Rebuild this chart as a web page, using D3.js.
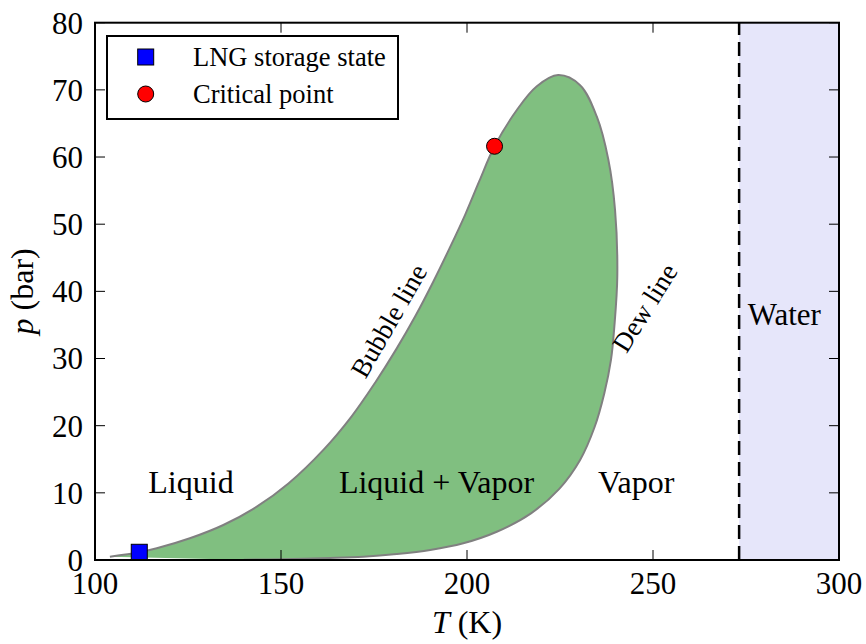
<!DOCTYPE html>
<html>
<head>
<meta charset="utf-8">
<script src="https://cdn.jsdelivr.net/npm/d3@7"></script>
<style>
  body { margin: 0; background: #fff; }
  svg text { font-family: "Liberation Serif", "Times New Roman", serif; fill: #000; }
</style>
</head>
<body>
<svg id="chart"></svg>
<script>
// phase envelope of the LNG mixture
const bubbleT = [104.0, 111.9, 116.6, 125.5, 134.5, 143.5, 152.0, 161.4, 169.0, 175.3, 181.0, 186.2, 190.9, 195.3, 199.5, 203.3, 207.4, 213.4, 218.7, 224.5]
const bubbleP = [0.49, 1.15, 1.74, 3.23, 5.21, 7.94, 11.4, 16.4, 21.4, 26.4, 31.4, 36.4, 41.4, 46.4, 51.4, 56.4, 61.6, 67.0, 70.5, 72.2]
const dewT = [224.5, 230.4, 234.9, 238.0, 239.8, 240.4, 239.6, 238.7, 236.9, 234.3, 230.4, 224.8, 217.2, 208.0, 199.0, 190.1, 181.1, 172.1, 163.2, 150.0, 140.0]
const dewP = [72.2, 70.7, 66.0, 59.6, 52.1, 42.2, 34.7, 29.8, 24.8, 19.8, 14.9, 10.6, 6.95, 4.21, 2.49, 1.49, 0.89, 0.49, 0.30, 0.12, 0.05]

const storageState = { T: 111.9, p: 1.15 }
const criticalPoint = { T: 207.4, p: 61.6 }
const waterT = 273.15

const xTicks = [100, 150, 200, 250, 300]
const yTicks = [0, 10, 20, 30, 40, 50, 60, 70, 80]

const width = 866
const height = 644
const margin = { top: 22.7, right: 27, bottom: 84, left: 95 }
const TICK_FONT = 31
const LABEL_FONT = 32

const svg = d3.select('#chart')
  .attr('width', width)
  .attr('height', height)

const x = d3.scaleLinear()
  .domain([100, 300])
  .range([margin.left, width - margin.right])

const y = d3.scaleLinear()
  .domain([0, 80])
  .range([height - margin.bottom, margin.top])

const envelope = bubbleT.map((t, i) => [t, bubbleP[i]])
  .concat(dewT.slice(1).map((t, i) => [t, dewP[i + 1]]))

const line = d3.line()
  .x(d => x(d[0]))
  .y(d => y(d[1]))
  .curve(d3.curveCatmullRom.alpha(0.5))

const plot = svg.append('g')

// clip everything to the axes box
svg.append('clipPath').attr('id', 'clip')
  .append('rect')
    .attr('x', x(100)).attr('y', y(80))
    .attr('width', x(300) - x(100)).attr('height', y(0) - y(80))

const inner = plot.append('g').attr('clip-path', 'url(#clip)')

// water region
inner.append('rect')
  .attr('x', x(waterT))
  .attr('y', y(80))
  .attr('width', x(300) - x(waterT))
  .attr('height', y(0) - y(80))
  .attr('fill', '#e6e6fa')

inner.append('line')
  .attr('x1', x(waterT)).attr('x2', x(waterT))
  .attr('y1', y(0)).attr('y2', y(80))
  .attr('stroke', '#000')
  .attr('stroke-width', 2.5)
  .attr('stroke-dasharray', '14,7')

// two-phase region
inner.append('path')
  .attr('d', line(envelope) + 'Z')
  .attr('fill', '#80bf80')
  .attr('stroke', 'none')

inner.append('path')
  .attr('d', line(envelope))
  .attr('fill', 'none')
  .attr('stroke', '#808080')
  .attr('stroke-width', 2)

// markers
inner.append('rect')
  .attr('x', x(storageState.T) - 8)
  .attr('y', y(storageState.p) - 8)
  .attr('width', 16).attr('height', 16)
  .attr('fill', '#0000ff')
  .attr('stroke', '#000')
  .attr('stroke-width', 1)

inner.append('circle')
  .attr('cx', x(criticalPoint.T))
  .attr('cy', y(criticalPoint.p))
  .attr('r', 8)
  .attr('fill', '#ff0000')
  .attr('stroke', '#000')
  .attr('stroke-width', 1)

// region labels
const labels = [
  { text: 'Liquid', T: 125.8, p: 10, size: LABEL_FONT },
  { text: 'Liquid + Vapor', T: 191.8, p: 10, size: LABEL_FONT },
  { text: 'Vapor', T: 245.5, p: 10, size: LABEL_FONT },
  { text: 'Water', T: 285.3, p: 35, size: 31 },
]
labels.forEach(l => {
  inner.append('text')
    .attr('x', x(l.T)).attr('y', y(l.p))
    .attr('text-anchor', 'middle')
    .attr('font-size', l.size)
    .text(l.text)
})

const curveLabels = [
  { text: 'Bubble line', cx: 389, cy: 321, rot: -60 },
  { text: 'Dew line', cx: 645, cy: 308, rot: -58 },
]
curveLabels.forEach(l => {
  plot.append('text')
    .attr('transform', `translate(${l.cx},${l.cy}) rotate(${l.rot})`)
    .attr('text-anchor', 'middle')
    .attr('dy', '0.33em')
    .attr('font-size', 27)
    .text(l.text)
})

// axes: inward ticks on all four sides
const TICK = 10
const axisG = svg.append('g')
axisG.selectAll('.xt').data(xTicks).enter().append('line')
  .attr('x1', d => x(d)).attr('x2', d => x(d))
  .attr('y1', y(0)).attr('y2', y(0) - TICK)
  .attr('stroke', '#000').attr('stroke-width', 1)
axisG.selectAll('.xtt').data(xTicks).enter().append('line')
  .attr('x1', d => x(d)).attr('x2', d => x(d))
  .attr('y1', y(80)).attr('y2', y(80) + TICK)
  .attr('stroke', '#000').attr('stroke-width', 1)
axisG.selectAll('.yt').data(yTicks).enter().append('line')
  .attr('x1', x(100)).attr('x2', x(100) + TICK)
  .attr('y1', d => y(d)).attr('y2', d => y(d))
  .attr('stroke', '#000').attr('stroke-width', 1)
axisG.selectAll('.ytr').data(yTicks).enter().append('line')
  .attr('x1', x(300)).attr('x2', x(300) - TICK)
  .attr('y1', d => y(d)).attr('y2', d => y(d))
  .attr('stroke', '#000').attr('stroke-width', 1)

axisG.append('rect')
  .attr('x', x(100)).attr('y', y(80))
  .attr('width', x(300) - x(100)).attr('height', y(0) - y(80))
  .attr('fill', 'none')
  .attr('stroke', '#000')
  .attr('stroke-width', 2)

axisG.selectAll('.xl').data(xTicks).enter().append('text')
  .attr('x', d => x(d)).attr('y', y(0) + 34)
  .attr('text-anchor', 'middle')
  .attr('font-size', TICK_FONT)
  .text(d => d)

axisG.selectAll('.yl').data(yTicks).enter().append('text')
  .attr('x', x(100) - 12).attr('y', d => y(d))
  .attr('dy', '0.35em')
  .attr('text-anchor', 'end')
  .attr('font-size', TICK_FONT)
  .text(d => d)

const xTitle = axisG.append('text')
  .attr('x', (x(100) + x(300)) / 2).attr('y', 633)
  .attr('text-anchor', 'middle')
  .attr('font-size', LABEL_FONT)
xTitle.append('tspan').attr('font-style', 'italic').text('T')
xTitle.append('tspan').text(' (K)')

const yTitle = axisG.append('text')
  .attr('transform', `translate(33,${(y(0) + y(80)) / 2}) rotate(-90)`)
  .attr('text-anchor', 'middle')
  .attr('font-size', LABEL_FONT)
yTitle.append('tspan').attr('font-style', 'italic').text('p')
yTitle.append('tspan').text(' (bar)')

// legend
const legend = svg.append('g').attr('transform', 'translate(107,36)')
legend.append('rect')
  .attr('width', 291).attr('height', 83)
  .attr('fill', '#fff')
  .attr('stroke', '#000')
  .attr('stroke-width', 2)
legend.append('rect')
  .attr('x', 38.7 - 8).attr('y', 21 - 8)
  .attr('width', 16).attr('height', 16)
  .attr('fill', '#0000ff').attr('stroke', '#000').attr('stroke-width', 1)
legend.append('circle')
  .attr('cx', 38.7).attr('cy', 58).attr('r', 8)
  .attr('fill', '#ff0000').attr('stroke', '#000').attr('stroke-width', 1)
legend.append('text').attr('x', 86).attr('y', 21).attr('dy', '0.33em')
  .attr('font-size', 26.5).text('LNG storage state')
legend.append('text').attr('x', 86).attr('y', 58).attr('dy', '0.33em')
  .attr('font-size', 26.5).text('Critical point')
</script>
</body>
</html>
